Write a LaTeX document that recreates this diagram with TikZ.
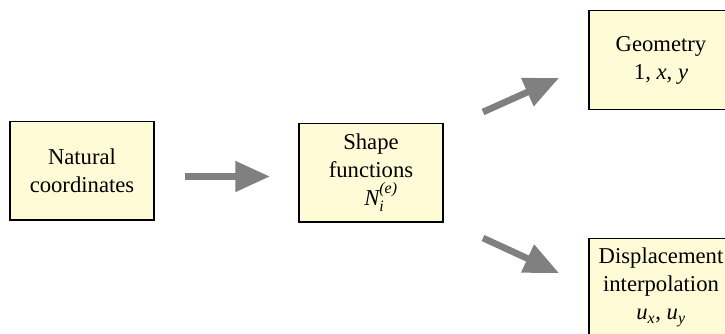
\documentclass[tikz,border=0pt]{standalone}
\usepackage{amsmath}
\usepackage{fontspec}
\setmainfont{Liberation Serif}
\usetikzlibrary{arrows.meta}
\definecolor{boxfill}{RGB}{255,251,215}
\definecolor{arrowgray}{RGB}{128,128,128}
\begin{document}
\begin{tikzpicture}[x=0.75pt,y=-0.75pt,
  box/.style={draw=black,line width=1pt,fill=boxfill,align=center,inner sep=0pt,
    minimum width=108pt,minimum height=74pt,font=\fontsize{17}{21}\selectfont},
  bigarrow/.style={draw=arrowgray,line width=5pt,
    -{Triangle[length=26pt,width=22pt,fill=arrowgray]}}]
\useasboundingbox (0,0) rectangle (725,333);
\node[box] (nat) at (82,170.5) {Natural\\coordinates};
\node[box] (shp) at (371,172.5) {Shape\\functions\\\hspace*{15pt}$\textit{N}_{\textit{i}}^{\textit{(e)}}$};
\node[box] (geo) at (661,60) {Geometry\\1, \textit{x}, \textit{y}};
\node[box] (dis) at (661,287.5) {Displacement\\interpolation\\$\textit{u}_{\textit{x}}$, $\textit{u}_{\textit{y}}$};
\coordinate (a1s) at (185,176.5);
\coordinate (a1e) at (270,176.5);
\coordinate (a2s) at (483,112);
\coordinate (a2e) at (559,78);
\coordinate (a3s) at (483,238);
\coordinate (a3e) at (559,273);
\draw[bigarrow] (a1s) -- (a1e);
\draw[bigarrow] (a2s) -- (a2e);
\draw[bigarrow] (a3s) -- (a3e);
\end{tikzpicture}
\end{document}
